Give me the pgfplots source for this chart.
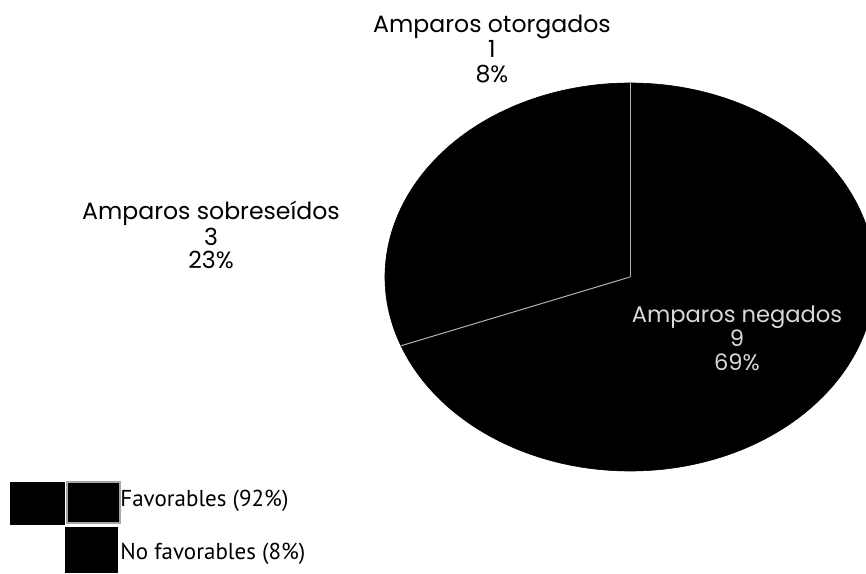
\documentclass[border=0pt]{standalone}
\usepackage{pgfplots}
\pgfplotsset{compat=1.18}
\usepackage{fontspec}
\setmainfont{Poppins}
\newfontfamily\legfont{PT Sans}

% slice counts (clockwise from 12 o'clock)
\def\nNeg{9}
\def\nSob{3}
\def\nOto{1}

\begin{document}
\begin{tikzpicture}
\pgfmathsetmacro\tot{\nNeg+\nSob+\nOto}
\pgfmathsetmacro\aA{90}
\pgfmathsetmacro\aB{\aA-360*\nNeg/\tot}
\pgfmathsetmacro\aC{\aB-360*\nSob/\tot}
\pgfmathsetmacro\aD{\aC-360*\nOto/\tot}
\begin{axis}[
  scale only axis, width=433pt, height=286.5pt,
  xmin=0, xmax=866, ymin=0, ymax=573,
  hide axis, clip=true,
]
  % pie centre and radii in axis units
  \def\cx{630}\def\cy{296}\def\rx{245}\def\ry{194}
  \begin{scope}
  \clip (rel axis cs:0,0) rectangle (rel axis cs:1,1);
  \filldraw[black, line width=0.3pt] (axis cs:\cx,\cy) -- (axis cs:{\cx+\rx*cos(\aA)},{\cy+\ry*sin(\aA)})
     arc[start angle=\aA, end angle=\aB, x radius=\rx, y radius=\ry] -- cycle;
  \filldraw[black, line width=0.3pt] (axis cs:\cx,\cy) -- (axis cs:{\cx+\rx*cos(\aB)},{\cy+\ry*sin(\aB)})
     arc[start angle=\aB, end angle=\aC, x radius=\rx, y radius=\ry] -- cycle;
  \filldraw[black, line width=0.3pt] (axis cs:\cx,\cy) -- (axis cs:{\cx+\rx*cos(\aC)},{\cy+\ry*sin(\aC)})
     arc[start angle=\aC, end angle=\aD, x radius=\rx, y radius=\ry] -- cycle;
  % visible slice borders
  \draw[gray!60, line width=0.5pt] (axis cs:\cx,\cy) -- (axis cs:{\cx+\rx*cos(\aA)},{\cy+\ry*sin(\aA)});
  \draw[gray!60, line width=0.5pt] (axis cs:\cx,\cy) -- (axis cs:{\cx+\rx*cos(\aB)},{\cy+\ry*sin(\aB)});
  \end{scope}

  \node[align=center, font=\fontsize{11.8}{12.5}\selectfont] at (axis cs:492,524)
    {Amparos otorgados\\1\\8\%};
  \node[align=center, font=\fontsize{11.8}{11.5}\selectfont] at (axis cs:211,338)
    {Amparos sobreseídos\\3\\23\%};
  \node[align=center, text=white!85!black, font=\fontsize{11.3}{12}\selectfont] at (axis cs:737,235)
    {Amparos negados\\9\\69\%};

  % legend
  \fill[black] (axis cs:10,48) rectangle (axis cs:65,91);
  \filldraw[fill=black, draw=gray!70, line width=0.6pt] (axis cs:67,50) rectangle (axis cs:120,91);
  \fill[black] (axis cs:65,0) rectangle (axis cs:118,46);
  \node[anchor=west, inner sep=0pt, font=\legfont\fontsize{11.5}{13}\selectfont] at (axis cs:120,72) {Favorables (92\%)};
  \node[anchor=west, inner sep=0pt, font=\legfont\fontsize{11.5}{13}\selectfont] at (axis cs:120,19) {No favorables (8\%)};
\end{axis}
\pgfresetboundingbox
\useasboundingbox (current axis.south west) rectangle (current axis.north east);
\end{tikzpicture}
\end{document}
